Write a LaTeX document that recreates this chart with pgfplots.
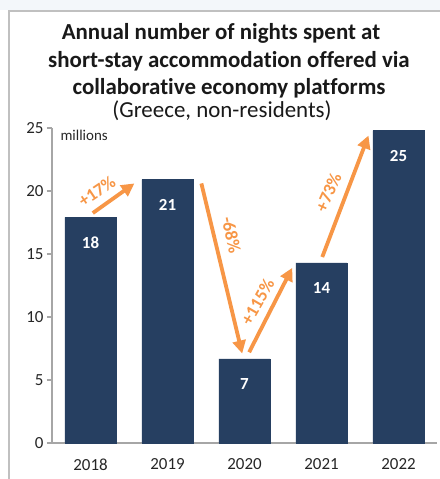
\documentclass[border=0pt]{standalone}
\usepackage{pgfplots}
\pgfplotsset{compat=1.18}
\usetikzlibrary{arrows.meta}
\usepackage{fontspec}
\setmainfont{Carlito}[RawFeature={-liga;-clig;-calt;-dlig}]
\definecolor{barblue}{HTML}{263F61}
\definecolor{orng}{HTML}{F79646}
\definecolor{axisgray}{HTML}{A6A6A6}
\definecolor{framegray}{HTML}{C0C0C0}
\definecolor{topband}{HTML}{F3F7FA}
\pgfplotstableread{
x y
0 17.9
1 20.9
2 6.67
3 14.3
4 24.8
}\nights
\begin{document}
\begin{tikzpicture}
\path[use as bounding box] (0,0) rectangle (440bp,479bp);
\fill[white] (0,0) rectangle (440bp,479bp);
\fill[topband] (0,469bp) rectangle (440bp,479bp);
\draw[framegray, line width=2.5bp] (9bp,0) -- (9bp,468bp) -- (440bp,468bp);
\begin{scope}[every node/.style={anchor=base, inner sep=0pt, text=black!90}]
\node[font=\bfseries\fontsize{23}{27}\selectfont] at (221bp,439bp) {Annual number of nights spent at};
\node[font=\bfseries\fontsize{23}{27}\selectfont] at (229bp,411bp) {short-stay accommodation offered via};
\node[font=\bfseries\fontsize{23}{27}\selectfont] at (229bp,384bp) {collaborat\kern0pt ive economy platforms};
\node[font=\fontsize{23}{27}\selectfont] at (222bp,361bp) {(Greece, non-residents)};
\end{scope}
\begin{axis}[
  at={(52bp,36bp)}, anchor=south west,
  scale only axis, width=385bp, height=315bp,
  xmin=-0.5, xmax=4.5, ymin=0, ymax=25,
  axis x line=bottom, axis y line=left,
  axis line style={draw=axisgray, line width=1.5bp, -},
  xtick={0,1,2,3,4}, xticklabels={2018,2019,2020,2021,2022},
  x tick style={draw=none},
  ytick={0,5,10,15,20,25},
  y tick style={draw=axisgray, line width=1.2bp},
  tick align=outside, major tick length=5bp,
  tick label style={font=\fontsize{17}{17}\selectfont, text=black!85},
  xticklabel style={yshift=-7bp},
  /pgf/number format/assume math mode=true,
  ybar, bar width=51bp,
  clip=false,
  nodes near coords={\pgfmathprintnumber[fixed,precision=0]{\pgfplotspointmeta}},
  every node near coord/.append style={font=\bfseries\fontsize{17}{17}\selectfont, text=white, anchor=center, yshift=-25bp},
]
\addplot[fill=barblue, draw=barblue] table[x=x,y=y] {\nights};
\node[anchor=west, font=\fontsize{15}{15}\selectfont, text=black!85] at (axis description cs:0.013,0.978) {millions};
\begin{scope}[orng, line width=3.8bp, -{Triangle[length=13bp,width=13bp]}]
\draw (axis cs:0.03,18.25) -- (axis cs:0.57,20.6);
\draw (axis cs:1.44,20.6) -- (axis cs:1.97,7.1);
\draw (axis cs:2.06,7.2) -- (axis cs:2.62,13.9);
\draw (axis cs:3.01,14.76) -- (axis cs:3.61,24.4);
\end{scope}
\begin{scope}[every node/.style={text=orng, font=\bfseries\fontsize{18}{18}\selectfont}]
\node[rotate=34] at (axis cs:0.084,20.0) {+17\%};
\node[rotate=-78] at (axis cs:1.83,16.5) {-68\%};
\node[rotate=60] at (axis cs:2.17,11.2) {+115\%};
\node[rotate=66] at (axis cs:3.09,19.9) {+73\%};
\end{scope}
\end{axis}
\end{tikzpicture}
\end{document}
